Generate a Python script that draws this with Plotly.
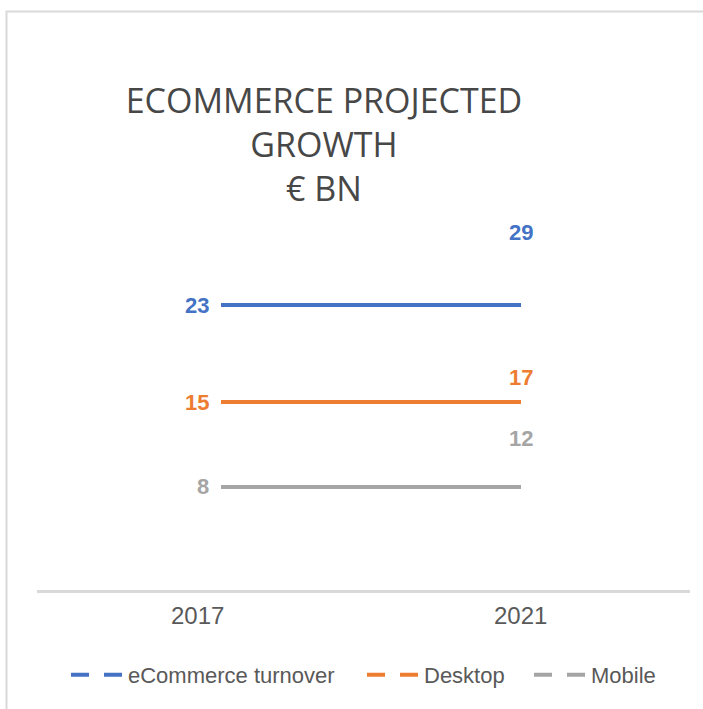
import plotly.graph_objects as go

# Projected eCommerce turnover (EUR billion)
years = [2017, 2021]
series_names = ["eCommerce turnover", "Desktop", "Mobile"]
ecommerce = [23, 29]
desktop = [15, 17]
mobile = [8, 12]
series_values = [ecommerce, desktop, mobile]
colors = ["#4472C4", "#ED7D31", "#A5A5A5"]
tick_labels = ["2017", "2021"]

W, H = 703, 709
L, R, T, B = 37, 13, 200, 119

# left edge (px) of each legend entry
legend_left = [74, 370, 537]
legend_ids = ["legend", "legend2", "legend3"]

fig = go.Figure()

for name, vals, col, lid in zip(series_names, series_values, colors, legend_ids):
    # flat segment held at the starting value across the period
    fig.add_trace(go.Scatter(
        x=years, y=[vals[0]] * len(years), mode="lines",
        line=dict(color=col, width=4), showlegend=False, hoverinfo="skip"))
    # legend entry drawn with a dashed key
    fig.add_trace(go.Scatter(
        x=[None], y=[None], mode="lines", name=name, legend=lid,
        line=dict(color=col, width=4, dash="18px,15px")))
    # value labels: start value left of the line, end value at its point
    fig.add_annotation(x=years[0], y=vals[0], text=str(vals[0]), showarrow=False,
                       xanchor="right", yanchor="middle", xshift=-10,
                       font=dict(family="Liberation Sans", size=22, color=col, weight="bold"))
    fig.add_annotation(x=years[1], y=vals[1], text=str(vals[1]), showarrow=False,
                       xanchor="center", yanchor="middle",
                       font=dict(family="Liberation Sans", size=22, color=col, weight="bold"))

# category labels under the axis
for yr, lab, shift in zip(years, tick_labels, [-24, -1]):
    fig.add_annotation(x=yr, y=0, yref="paper", text=lab, showarrow=False,
                       xanchor="center", yanchor="middle", xshift=shift, yshift=-25,
                       font=dict(family="Liberation Sans", size=24, color="#595959"))

# outer chart border
fig.add_shape(type="rect", xref="paper", yref="paper",
              x0=(6.5 - L) / (W - L - R), x1=(W + 10 - L) / (W - L - R),
              y0=-(B + 10) / (H - T - B), y1=1 + (T - 11.5) / (H - T - B),
              line=dict(color="#D9D9D9", width=2), layer="below")

legend_style = dict(orientation="h", xref="container", xanchor="left",
                    y=1 - 675 / H, yref="container", yanchor="middle",
                    itemwidth=52, bgcolor="rgba(0,0,0,0)",
                    font=dict(family="Liberation Sans", size=22, color="#595959"))
legends = {lid: dict(legend_style, x=(px - 8) / W) for lid, px in zip(legend_ids, legend_left)}

fig.update_layout(
    width=W, height=H,
    margin=dict(l=L, r=R, t=T, b=B),
    paper_bgcolor="white", plot_bgcolor="white",
    title=dict(text="ECOMMERCE PROJECTED<br>GROWTH<br>€ BN",
               x=324 / W, xref="container", xanchor="center",
               y=1 - 113 / H, yref="container", yanchor="top",
               font=dict(family="Open Sans", size=34, color="#474747")),
    xaxis=dict(range=[2017 - 184 / 75, 2021 + 169 / 75], showgrid=False, zeroline=False,
               showticklabels=False, ticks="", showline=True,
               linecolor="#D9D9D9", linewidth=3, fixedrange=True),
    yaxis=dict(range=[-0.5, 31.66], visible=False, showgrid=False, zeroline=False),
    showlegend=True,
    **legends,
)

fig.write_html("out.html")
